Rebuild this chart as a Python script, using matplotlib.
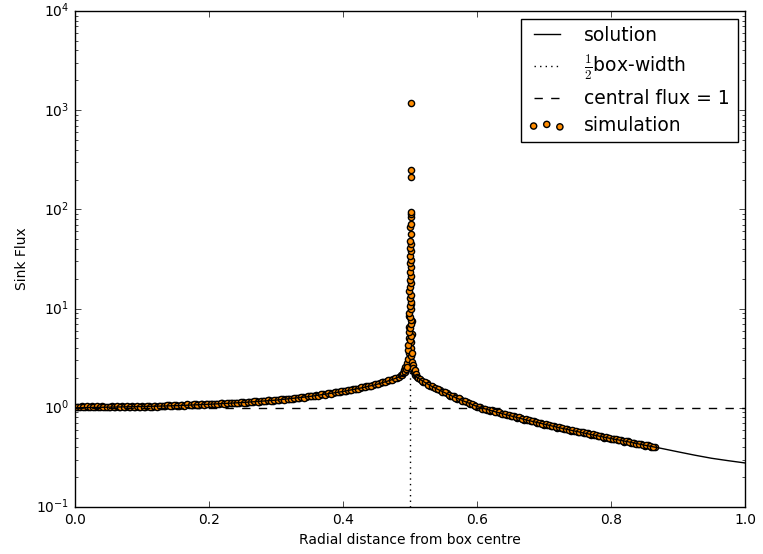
import matplotlib
matplotlib.use("Agg")
import matplotlib.pyplot as plt

plt.style.use("classic")

# ---- solution curve ----
sol_x = [0.0, 0.05, 0.1, 0.15, 0.2, 0.25, 0.3, 0.35, 0.4, 0.43, 0.45, 0.47, 0.48, 0.49,
         0.495, 0.5, 0.505, 0.51, 0.52, 0.53, 0.54, 0.55, 0.56, 0.57, 0.58, 0.59, 0.6,
         0.625, 0.65, 0.675, 0.7, 0.725, 0.75, 0.775, 0.8, 0.825, 0.85, 0.875, 0.9,
         0.925, 0.95, 0.975, 1.0]
sol_y = [1.0, 1.015, 1.03, 1.05, 1.085, 1.13, 1.195, 1.30, 1.46, 1.60, 1.72, 1.89, 2.0, 2.13,
         2.22, 2.33, 2.18, 2.04, 1.84, 1.68, 1.55, 1.44, 1.34, 1.25, 1.17, 1.10, 1.03,
         0.92, 0.83, 0.75, 0.685, 0.625, 0.575, 0.53, 0.49, 0.455, 0.42, 0.39, 0.36,
         0.333, 0.31, 0.293, 0.278]

# ---- simulation points: inner band (r < 0.5), first row ----
inner_x = [0.000, 0.005, 0.010, 0.015, 0.020, 0.025, 0.030, 0.035, 0.040, 0.045,
           0.050, 0.055, 0.060, 0.065, 0.070, 0.075, 0.080, 0.085, 0.090, 0.095,
           0.100, 0.105, 0.110, 0.115, 0.120, 0.125, 0.130, 0.135, 0.140, 0.145,
           0.150, 0.155, 0.160, 0.165, 0.170, 0.175, 0.180, 0.185, 0.190, 0.195,
           0.200, 0.205, 0.210, 0.215, 0.220, 0.225, 0.230, 0.235, 0.240, 0.245,
           0.250, 0.255, 0.260, 0.265, 0.270, 0.275, 0.280, 0.285, 0.290, 0.295,
           0.300, 0.305, 0.310, 0.315, 0.320, 0.325, 0.330, 0.335, 0.340, 0.345,
           0.350, 0.355, 0.360, 0.365, 0.370, 0.375, 0.380, 0.385, 0.390, 0.395,
           0.400, 0.405, 0.410, 0.415, 0.420, 0.425, 0.430, 0.435, 0.440, 0.445,
           0.450, 0.455, 0.460, 0.465, 0.470, 0.475, 0.480]
inner_y = [1.03, 1.02, 1.04, 1.03, 1.02, 1.04, 1.03, 1.02, 1.04, 1.03,
           1.02, 1.04, 1.03, 1.02, 1.04, 1.03, 1.02, 1.04, 1.03, 1.02,
           1.04, 1.03, 1.04, 1.03, 1.05, 1.04, 1.05, 1.04, 1.06, 1.05,
           1.06, 1.05, 1.07, 1.06, 1.07, 1.06, 1.08, 1.07, 1.09, 1.08,
           1.09, 1.08, 1.10, 1.09, 1.11, 1.10, 1.12, 1.11, 1.13, 1.12,
           1.14, 1.13, 1.15, 1.14, 1.16, 1.15, 1.17, 1.17, 1.19, 1.18,
           1.20, 1.20, 1.22, 1.22, 1.24, 1.24, 1.26, 1.26, 1.28, 1.29,
           1.31, 1.31, 1.34, 1.34, 1.37, 1.38, 1.40, 1.41, 1.44, 1.45,
           1.47, 1.48, 1.51, 1.53, 1.56, 1.58, 1.61, 1.64, 1.67, 1.70,
           1.73, 1.77, 1.81, 1.85, 1.90, 1.94, 2.00]

# ---- inner band, second row ----
inner2_x = [0.0025, 0.0075, 0.0125, 0.0175, 0.0225, 0.0275, 0.0325, 0.0375, 0.0425, 0.0475,
            0.0525, 0.0575, 0.0625, 0.0675, 0.0725, 0.0775, 0.0825, 0.0875, 0.0925, 0.0975,
            0.1025, 0.1075, 0.1125, 0.1175, 0.1225, 0.1275, 0.1325, 0.1375, 0.1425, 0.1475,
            0.1525, 0.1575, 0.1625, 0.1675, 0.1725, 0.1775, 0.1825, 0.1875, 0.1925, 0.1975,
            0.2025, 0.2075, 0.2125, 0.2175, 0.2225, 0.2275, 0.2325, 0.2375, 0.2425, 0.2475,
            0.2525, 0.2575, 0.2625, 0.2675, 0.2725, 0.2775, 0.2825, 0.2875, 0.2925, 0.2975,
            0.3025, 0.3075, 0.3125, 0.3175, 0.3225, 0.3275, 0.3325, 0.3375, 0.3425, 0.3475,
            0.3525, 0.3575, 0.3625, 0.3675, 0.3725, 0.3775, 0.3825, 0.3875, 0.3925, 0.3975,
            0.4025, 0.4075, 0.4125, 0.4175, 0.4225, 0.4275, 0.4325, 0.4375, 0.4425, 0.4475,
            0.4525, 0.4575, 0.4625, 0.4675, 0.4725, 0.4775]
inner2_y = [1.01, 1.03, 1.02, 1.04, 1.01, 1.03, 1.04, 1.01, 1.03, 1.02,
            1.01, 1.03, 1.04, 1.02, 1.01, 1.04, 1.03, 1.02, 1.04, 1.03,
            1.02, 1.05, 1.03, 1.04, 1.03, 1.05, 1.04, 1.06, 1.04, 1.06,
            1.05, 1.07, 1.05, 1.08, 1.06, 1.08, 1.07, 1.09, 1.07, 1.10,
            1.08, 1.10, 1.09, 1.11, 1.10, 1.12, 1.11, 1.13, 1.12, 1.14,
            1.13, 1.15, 1.14, 1.16, 1.15, 1.18, 1.16, 1.19, 1.18, 1.21,
            1.19, 1.22, 1.21, 1.24, 1.23, 1.26, 1.25, 1.28, 1.27, 1.31,
            1.30, 1.33, 1.33, 1.37, 1.36, 1.40, 1.39, 1.43, 1.43, 1.47,
            1.47, 1.51, 1.51, 1.56, 1.56, 1.61, 1.61, 1.67, 1.67, 1.73,
            1.74, 1.80, 1.82, 1.89, 1.91, 1.99]

# ---- simulation points: outer band (r > 0.5), first row ----
outer_x = [0.515, 0.520, 0.525, 0.530, 0.535, 0.540, 0.545, 0.550, 0.555, 0.560,
           0.565, 0.570, 0.575, 0.580, 0.585, 0.590, 0.595, 0.600, 0.605, 0.610,
           0.615, 0.620, 0.625, 0.630, 0.635, 0.640, 0.645, 0.650, 0.655, 0.660,
           0.665, 0.670, 0.675, 0.680, 0.685, 0.690, 0.695, 0.700, 0.705, 0.710,
           0.715, 0.720, 0.725, 0.730, 0.735, 0.740, 0.745, 0.750, 0.755, 0.760,
           0.765, 0.770, 0.775, 0.780, 0.785, 0.790, 0.795, 0.800, 0.805, 0.810,
           0.815, 0.820, 0.825, 0.830, 0.835, 0.840, 0.845, 0.850, 0.855, 0.860,
           0.865]
outer_y = [1.95, 1.83, 1.78, 1.67, 1.63, 1.54, 1.50, 1.43, 1.40, 1.33,
           1.30, 1.24, 1.22, 1.16, 1.14, 1.09, 1.07, 1.02, 1.01, 0.97,
           0.96, 0.93, 0.93, 0.90, 0.89, 0.86, 0.85, 0.82, 0.82, 0.79,
           0.79, 0.76, 0.755, 0.73, 0.73, 0.70, 0.70, 0.675, 0.675, 0.65,
           0.65, 0.625, 0.63, 0.61, 0.61, 0.59, 0.59, 0.57, 0.575, 0.555,
           0.555, 0.535, 0.535, 0.515, 0.52, 0.50, 0.50, 0.485, 0.49, 0.47,
           0.475, 0.455, 0.46, 0.445, 0.445, 0.43, 0.43, 0.415, 0.42, 0.405,
           0.405]

# ---- outer band, second row ----
outer2_x = [0.5175, 0.5225, 0.5275, 0.5325, 0.5375, 0.5425, 0.5475, 0.5525, 0.5575, 0.5625,
            0.5675, 0.5725, 0.5775, 0.5825, 0.5875, 0.5925, 0.5975, 0.6025, 0.6075, 0.6125,
            0.6175, 0.6225, 0.6275, 0.6325, 0.6375, 0.6425, 0.6475, 0.6525, 0.6575, 0.6625,
            0.6675, 0.6725, 0.6775, 0.6825, 0.6875, 0.6925, 0.6975, 0.7025, 0.7075, 0.7125,
            0.7175, 0.7225, 0.7275, 0.7325, 0.7375, 0.7425, 0.7475, 0.7525, 0.7575, 0.7625,
            0.7675, 0.7725, 0.7775, 0.7825, 0.7875, 0.7925, 0.7975, 0.8025, 0.8075, 0.8125,
            0.8175, 0.8225, 0.8275, 0.8325, 0.8375, 0.8425, 0.8475, 0.8525, 0.8575, 0.8625]
outer2_y = [1.87, 1.82, 1.71, 1.67, 1.57, 1.54, 1.45, 1.43, 1.35, 1.33,
            1.26, 1.25, 1.18, 1.17, 1.11, 1.10, 1.04, 1.03, 0.98, 0.98,
            0.94, 0.94, 0.91, 0.905, 0.875, 0.87, 0.84, 0.835, 0.805, 0.80,
            0.775, 0.77, 0.745, 0.74, 0.715, 0.71, 0.69, 0.685, 0.665, 0.66,
            0.64, 0.635, 0.62, 0.615, 0.60, 0.595, 0.58, 0.575, 0.565, 0.56,
            0.545, 0.54, 0.53, 0.525, 0.51, 0.505, 0.495, 0.49, 0.48, 0.475,
            0.465, 0.46, 0.45, 0.445, 0.435, 0.435, 0.425, 0.42, 0.41, 0.405]

# ---- simulation points near r = 0.5 (cusp base) ----
peak_x = [0.484, 0.486, 0.488, 0.490, 0.491, 0.492, 0.493, 0.494, 0.495, 0.496,
          0.497, 0.498, 0.499, 0.501, 0.502, 0.503, 0.504, 0.505, 0.506, 0.507,
          0.508, 0.509, 0.510, 0.512, 0.497, 0.503, 0.498, 0.502, 0.4985, 0.5035,
          0.4975, 0.5025, 0.499, 0.502]
peak_y = [2.05, 2.15, 2.12, 2.25, 2.40, 2.30, 2.60, 2.45, 2.80, 2.60,
          3.10, 3.60, 4.20, 4.00, 3.30, 2.90, 2.70, 2.50, 2.30, 2.40,
          2.15, 2.20, 2.05, 2.00, 3.80, 3.60, 5.00, 4.60, 6.50, 5.50,
          4.30, 7.50, 8.50, 11.0]

# ---- simulation points in the spike at r = 0.5 ----
spike_x = [0.500, 0.501, 0.499, 0.500, 0.501, 0.502, 0.500, 0.499, 0.501, 0.500,
           0.502, 0.500, 0.501, 0.499, 0.500, 0.501, 0.500, 0.502, 0.500, 0.501,
           0.500, 0.501, 0.500, 0.501, 0.500, 0.501, 0.500, 0.501, 0.500, 0.501,
           0.501, 0.501, 0.501, 0.501, 0.501, 0.501]
spike_y = [4.8, 5.3, 5.8, 6.4, 7.0, 7.6, 8.3, 9.0, 9.8, 10.7,
           11.6, 12.7, 13.8, 15.0, 16.5, 18.0, 19.5, 21.5, 23.5, 26.0,
           28.5, 31.0, 34.0, 38.0, 41.0, 45.0, 48.0, 57.0, 66.0, 72.0,
           84.0, 90.0, 95.0, 212.0, 248.0, 1170.0]

sim_x = inner_x + inner2_x + peak_x + outer_x + outer2_x + spike_x
sim_y = inner_y + inner2_y + peak_y + outer_y + outer2_y + spike_y

fig = plt.figure(figsize=(7.63, 5.54), dpi=100, facecolor="white")
ax = fig.add_axes([75 / 763, 47 / 554, 670 / 763, 496 / 554])

ax.plot(sol_x, sol_y, color="black", linestyle="-", linewidth=1.0, label="solution")
ax.plot([0.5, 0.5], [0.1, 2.33], color="black", linestyle=":", linewidth=1.0,
        label=r"$\frac{1}{2}$box-width")
ax.plot([0.0, 1.0], [1.0, 1.0], color="black", linestyle="--", linewidth=1.0,
        label="central flux = 1")
ax.scatter(sim_x, sim_y, s=20, c="darkorange", edgecolors="black", linewidths=1.0,
           label="simulation")

ax.set_yscale("log")
ax.set_xlim(0.0, 1.0)
ax.set_ylim(0.1, 1e4)
ax.set_xticks([0.0, 0.2, 0.4, 0.6, 0.8, 1.0])
ax.tick_params(labelsize=10)
ax.set_xlabel("Radial distance from box centre", fontsize=10)
ax.set_ylabel("Sink Flux", fontsize=10)

leg = ax.legend(loc="upper right", fontsize=13.5, handlelength=2.0, handletextpad=1.0,
                labelspacing=0.4, borderaxespad=0.4)
leg.get_frame().set_edgecolor("black")

fig.savefig("out.png", dpi=100, facecolor="white")
